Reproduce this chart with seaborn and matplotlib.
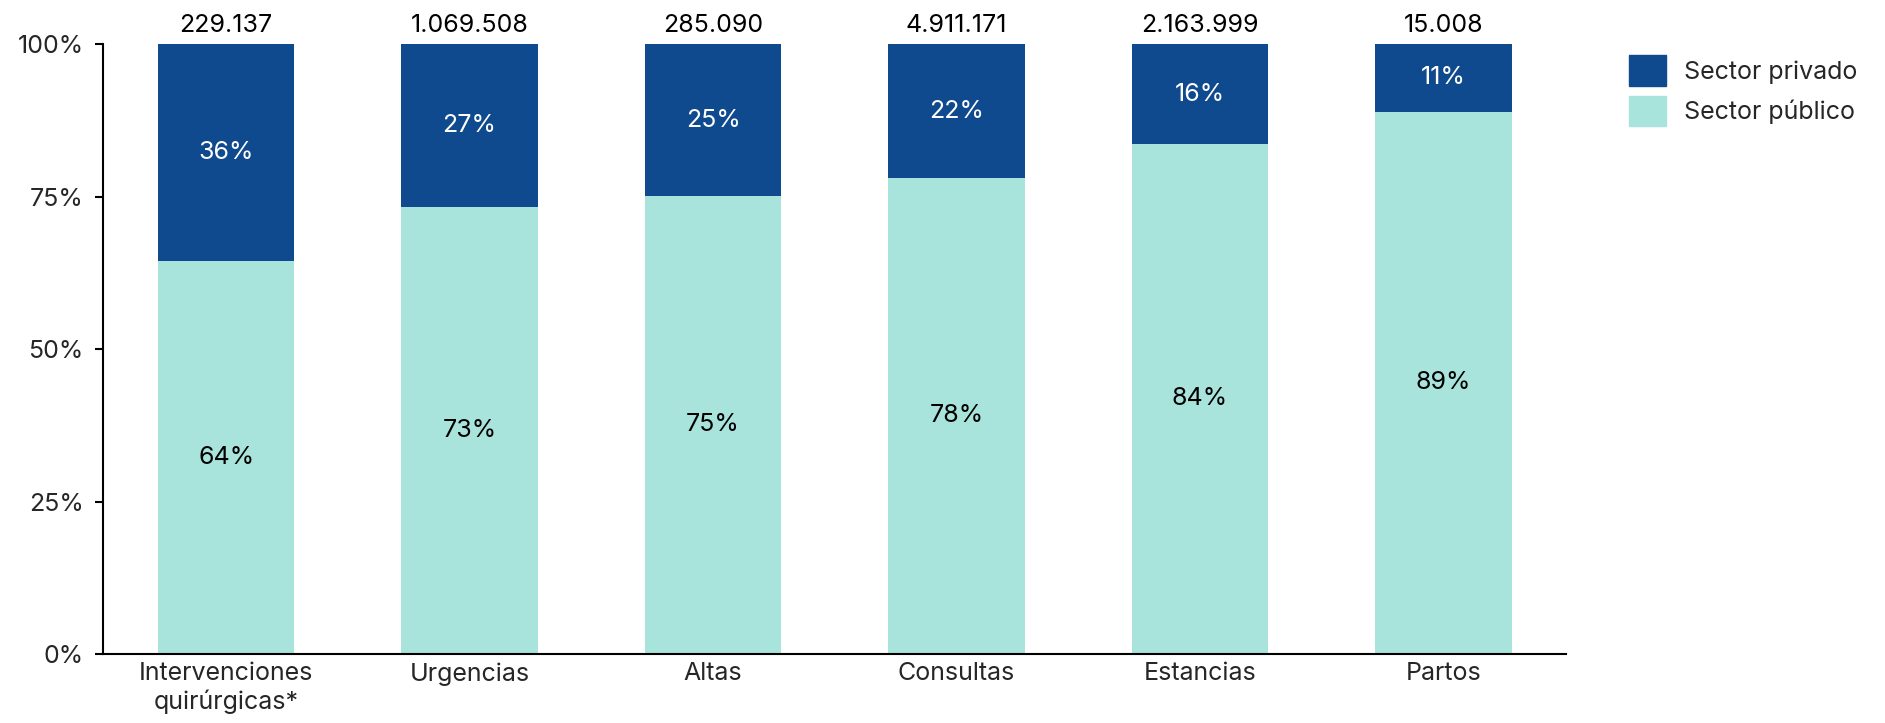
import pandas as pd
import seaborn as sns
import matplotlib.pyplot as plt
from matplotlib.patches import Patch

# --- Datos ---
categorias = ['Intervenciones\nquirúrgicas*', 'Urgencias', 'Altas', 'Consultas', 'Estancias', 'Partos']
publico = [64.4, 73.4, 75.2, 78.1, 83.7, 89.0]
privado = [100 - p for p in publico]
totales = ['229.137', '1.069.508', '285.090', '4.911.171', '2.163.999', '15.008']
etiquetas_pub = ['64%', '73%', '75%', '78%', '84%', '89%']
etiquetas_priv = ['36%', '27%', '25%', '22%', '16%', '11%']

col_priv = '#104A8E'
col_pub = '#A8E3DC'

df = pd.DataFrame({'categoria': categorias, 'publico': publico,
                   'total': [p + q for p, q in zip(publico, privado)]})

sns.set_style('white')
plt.rcParams['font.family'] = ['Inter', 'DejaVu Sans']

fig = plt.figure(figsize=(18.85, 7.23), dpi=100)
ax = fig.add_axes([0.0547, 0.0954, 0.7763, 0.8431])

# barra completa (privado) y encima la parte pública
sns.barplot(data=df, x='categoria', y='total', color=col_priv, width=0.56,
            saturation=1, linewidth=0, ax=ax)
sns.barplot(data=df, x='categoria', y='publico', color=col_pub, width=0.56,
            saturation=1, linewidth=0, ax=ax)

fs = 18
for i in range(len(categorias)):
    ax.text(i, publico[i] / 2, etiquetas_pub[i], ha='center', va='center',
            fontsize=fs, color='black')
    ax.text(i, publico[i] + privado[i] / 2, etiquetas_priv[i], ha='center',
            va='center', fontsize=fs, color='white')
    ax.text(i, 100 + 1.2, totales[i], ha='center', va='bottom',
            fontsize=fs, color='black')

ax.set_xlim(-0.505, len(categorias) - 0.495)
ax.set_ylim(0, 100)
ax.set_yticks([0, 25, 50, 75, 100])
ax.set_yticklabels(['0%', '25%', '50%', '75%', '100%'])
ax.set_xlabel('')
ax.set_ylabel('')
ax.tick_params(axis='y', length=6, width=1.5, color='black', labelsize=fs, pad=8,
               left=True)
ax.tick_params(axis='x', length=0, labelsize=fs, pad=6)

for s in ['top', 'right']:
    ax.spines[s].set_visible(False)
for s in ['left', 'bottom']:
    ax.spines[s].set_color('black')
    ax.spines[s].set_linewidth(1.5)

handles = [Patch(color=col_priv, label='Sector privado'),
           Patch(color=col_pub, label='Sector público')]
fig.legend(handles=handles, loc='upper left', bbox_to_anchor=(0.852, 0.955),
           frameon=False, fontsize=fs, handlelength=1.5, handleheight=1.5,
           handletextpad=0.7, labelspacing=0.4)

fig.savefig('out.png', dpi=100)
